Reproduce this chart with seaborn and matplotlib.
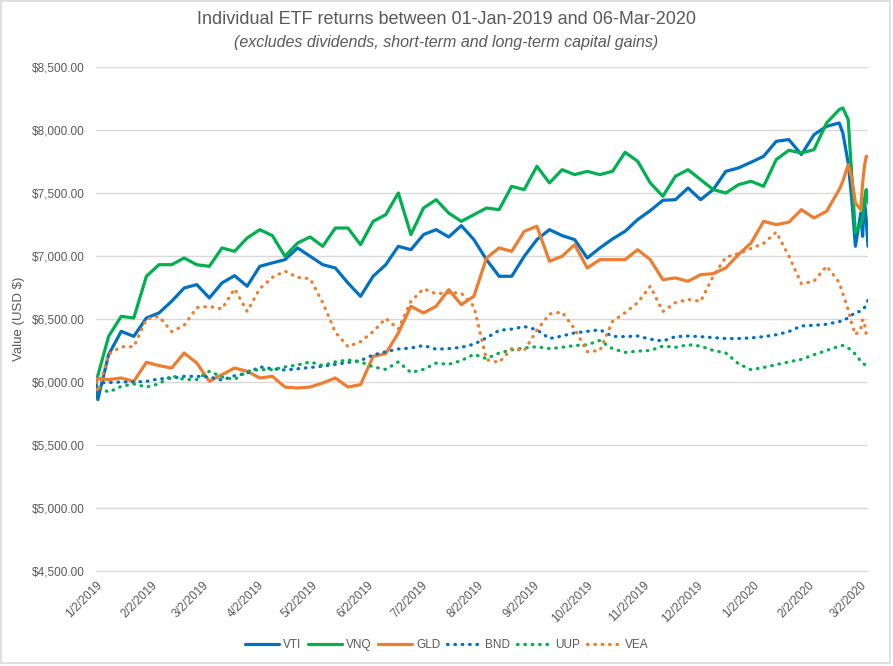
import pandas as pd
import numpy as np
import seaborn as sns
import matplotlib.pyplot as plt
from matplotlib.lines import Line2D
from matplotlib.patches import Rectangle
import matplotlib.ticker as mticker

# sample dates: first two days, weekly points, then the last days of the crash
dates = (list(pd.to_datetime(["2019-01-02", "2019-01-03"]))
         + list(pd.date_range("2019-01-09", "2020-02-19", freq="7D"))
         + list(pd.to_datetime(["2020-02-21", "2020-02-24", "2020-02-26", "2020-02-28",
                                "2020-03-02", "2020-03-03", "2020-03-04", "2020-03-05",
                                "2020-03-06"])))

vti = [6000, 5860, 6217, 6402, 6362, 6508, 6548, 6640, 6746, 6773, 6667, 6786, 6844, 6760,
       6918, 6945, 6971, 7064, 6998, 6931, 6905, 6786, 6680, 6839, 6931, 7077, 7050, 7170,
       7209, 7151, 7241, 7130, 6971, 6839, 6839, 6998, 7130, 7209, 7162, 7130, 6984, 7064,
       7135, 7196, 7289, 7360, 7442, 7447, 7540, 7447, 7527, 7672, 7699, 7744, 7791, 7910,
       7924, 7805, 7963, 8029, 8056, 7977, 7738, 7447, 7077, 7342, 7156, 7447, 7289, 7077]
vnq = [6000, 6050, 6362, 6521, 6508, 6839, 6931, 6931, 6984, 6931, 6918, 7064, 7037, 7143,
       7209, 7162, 6998, 7103, 7151, 7077, 7222, 7222, 7090, 7275, 7328, 7500, 7170, 7381,
       7447, 7341, 7275, 7328, 7381, 7368, 7553, 7527, 7712, 7580, 7685, 7646, 7672, 7646,
       7672, 7823, 7752, 7580, 7474, 7633, 7685, 7606, 7527, 7500, 7566, 7593, 7553, 7765,
       7839, 7818, 7844, 8056, 8162, 8175, 8082, 7633, 7183, 7262, 7289, 7447, 7527, 7421]
gld = [6000, 6030, 6019, 6032, 6005, 6156, 6130, 6111, 6230, 6151, 6005, 6058, 6111, 6085,
       6032, 6045, 5960, 5952, 5960, 5992, 6032, 5960, 5979, 6204, 6225, 6389, 6601, 6548,
       6601, 6733, 6614, 6680, 6984, 7064, 7037, 7196, 7236, 6958, 6998, 7090, 6905, 6971,
       6971, 6971, 7050, 6971, 6812, 6826, 6799, 6852, 6860, 6905, 7011, 7103, 7275, 7249,
       7268, 7368, 7302, 7355, 7527, 7593, 7725, 7619, 7421, 7368, 7580, 7712, 7791, 7791]
bnd = [6000, 5995, 5995, 6000, 6000, 6005, 6025, 6030, 6045, 6045, 6040, 6015, 6050, 6070,
       6120, 6105, 6095, 6105, 6115, 6125, 6140, 6155, 6170, 6215, 6240, 6262, 6270, 6290,
       6260, 6265, 6275, 6300, 6350, 6410, 6420, 6440, 6415, 6345, 6365, 6390, 6402, 6415,
       6362, 6360, 6365, 6340, 6325, 6360, 6365, 6360, 6352, 6345, 6345, 6350, 6360, 6375,
       6400, 6445, 6450, 6458, 6480, 6485, 6510, 6530, 6555, 6560, 6575, 6590, 6615, 6650]
uup = [6000, 5960, 5920, 5965, 5985, 5960, 5985, 6050, 6020, 6020, 6085, 6040, 6020, 6085,
       6098, 6098, 6120, 6135, 6160, 6130, 6160, 6175, 6160, 6120, 6100, 6160, 6075, 6100,
       6150, 6140, 6170, 6220, 6185, 6230, 6255, 6270, 6280, 6265, 6275, 6290, 6295, 6330,
       6265, 6235, 6245, 6250, 6285, 6275, 6296, 6285, 6250, 6230, 6145, 6098, 6115, 6138,
       6160, 6180, 6217, 6250, 6285, 6290, 6270, 6250, 6220, 6165, 6150, 6140, 6130, 6115]
vea = [6000, 5920, 6220, 6280, 6280, 6500, 6520, 6400, 6450, 6590, 6600, 6580, 6740, 6560,
       6740, 6830, 6880, 6830, 6820, 6630, 6395, 6280, 6320, 6400, 6505, 6420, 6640, 6740,
       6700, 6710, 6705, 6600, 6177, 6155, 6265, 6250, 6410, 6540, 6555, 6420, 6240, 6250,
       6480, 6550, 6630, 6760, 6560, 6630, 6655, 6640, 6840, 6990, 7020, 7060, 7100, 7190,
       7000, 6780, 6800, 6920, 6790, 6700, 6574, 6460, 6376, 6420, 6495, 6468, 6380, 6341]

tickers = ["VTI", "VNQ", "GLD", "BND", "UUP", "VEA"]
series = [vti, vnq, gld, bnd, uup, vea]
colors = {"VTI": "#0070C0", "VNQ": "#00B050", "GLD": "#ED7D31",
          "BND": "#0070C0", "UUP": "#00B050", "VEA": "#ED7D31"}
dots = (0.2, 2.1)
dash_map = {"VTI": "", "VNQ": "", "GLD": "", "BND": dots, "UUP": dots, "VEA": dots}

df = pd.concat([pd.DataFrame({"date": dates, "value": s, "ticker": t})
                for t, s in zip(tickers, series)], ignore_index=True)

sns.set_style("white")
plt.rcParams["font.family"] = ["Liberation Sans", "DejaVu Sans"]
plt.rcParams["lines.dash_capstyle"] = "round"
grey = "#595959"

fig = plt.figure(figsize=(8.93, 6.66), dpi=100)
ax = fig.add_axes([96 / 893, 1 - 571 / 666, (868 - 96) / 893, (571 - 67) / 666])

sns.lineplot(data=df, x="date", y="value", hue="ticker", style="ticker",
             hue_order=tickers, style_order=tickers, palette=colors,
             dashes=dash_map, linewidth=2.3, ax=ax, legend=False)

# axes look
ax.set_ylim(4500, 8500)
ax.set_xlim(pd.Timestamp("2019-01-02"), pd.Timestamp("2020-03-06"))
ax.yaxis.set_major_locator(mticker.MultipleLocator(500))
ax.yaxis.set_major_formatter(mticker.FuncFormatter(lambda v, p: f"${v:,.2f}"))
ax.yaxis.grid(True, color="#d9d9d9", lw=1)
ax.xaxis.grid(False)
for s in ["left", "right", "top"]:
    ax.spines[s].set_visible(False)
ax.spines["bottom"].set_color("#d9d9d9")

tick_dates = pd.date_range("2019-01-01", "2020-03-01", freq="MS") + pd.Timedelta(days=1)
ax.set_xticks(tick_dates)
ax.set_xticklabels([f"{d.month}/{d.day}/{d.year}" for d in tick_dates],
                   rotation=45, ha="right", rotation_mode="anchor")
ax.tick_params(axis="both", length=0, colors=grey, labelsize=8.5)
ax.tick_params(axis="x", pad=6)
ax.tick_params(axis="y", pad=8)

ax.set_xlabel("")
ax.set_ylabel("Value (USD $)", color=grey, fontsize=9.5)
ax.yaxis.set_label_coords((25 - 96) / 772, 0.5)

fig.text(0.5, 1 - 20 / 666, "Individual ETF returns between 01-Jan-2019 and 06-Mar-2020",
         ha="center", va="center", fontsize=13, color=grey)
fig.text(0.5, 1 - 43 / 666, "(excludes dividends, short-term and long-term capital gains)",
         ha="center", va="center", fontsize=11.5, color=grey, style="italic")

handles = [Line2D([], [], color=colors[t], lw=2.3,
                  linestyle="-" if dash_map[t] == "" else (0, dots),
                  dash_capstyle="round") for t in tickers]
leg = fig.legend(handles, tickers, loc="center", bbox_to_anchor=(0.5, 1 - 645 / 666),
                 ncol=6, frameon=False, handlelength=2.9, columnspacing=0.6,
                 handletextpad=0.3, fontsize=8.5)
for txt in leg.get_texts():
    txt.set_color(grey)

fig.patches.append(Rectangle((0.001, 0.004), 0.996, 0.995, transform=fig.transFigure,
                             fill=False, edgecolor="#d9d9d9", lw=1.2))

fig.savefig("out.png", dpi=100)
